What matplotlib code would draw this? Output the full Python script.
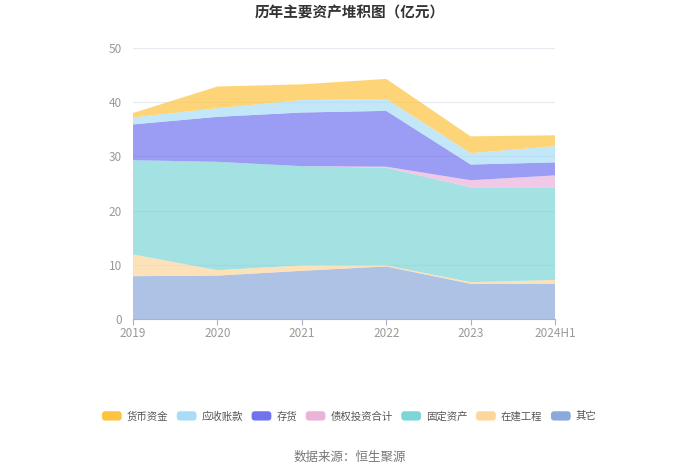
import matplotlib
matplotlib.use("Agg")
import matplotlib.pyplot as plt
from matplotlib.patches import FancyBboxPatch, Rectangle
from matplotlib.legend_handler import HandlerPatch

plt.rcParams['font.family'] = ['Noto Sans CJK SC', 'DejaVu Sans']

years = ["2019", "2020", "2021", "2022", "2023", "2024H1"]
other = [7.9, 8.0, 8.9, 9.7, 6.5, 6.5]
construction = [4.0, 1.0, 1.0, 0.2, 0.3, 0.7]
fixed_assets = [17.4, 20.0, 18.3, 18.0, 17.5, 17.1]
debt_invest = [0.0, 0.0, 0.0, 0.2, 1.3, 2.2]
inventory = [6.6, 8.3, 9.9, 10.3, 2.9, 2.4]
receivables = [1.3, 1.6, 2.3, 2.2, 2.1, 3.0]
cash = [0.8, 4.0, 2.9, 3.7, 3.1, 2.0]

series_names = ["货币资金", "应收账款", "存货", "债权投资合计", "固定资产", "在建工程", "其它"]
colors = {
    "货币资金": "#FDC43F",
    "应收账款": "#A9DDF7",
    "存货": "#7173EE",
    "债权投资合计": "#E9B3DA",
    "固定资产": "#7DD5D6",
    "在建工程": "#FDD69C",
    "其它": "#8CA9DB",
}

stack_order = ["其它", "在建工程", "固定资产", "债权投资合计", "存货", "应收账款", "货币资金"]
data = {
    "其它": other, "在建工程": construction, "固定资产": fixed_assets,
    "债权投资合计": debt_invest, "存货": inventory, "应收账款": receivables, "货币资金": cash,
}

fig = plt.figure(figsize=(7, 4.73), dpi=100)
ax = fig.add_axes([0.19, 0.3256, 0.603, 0.5729])
x = list(range(len(years)))
ax.stackplot(x, [data[k] for k in stack_order],
             colors=[colors[k] for k in stack_order], alpha=0.7, linewidth=0)

ax.set_xlim(0, len(years) - 1)
ax.set_ylim(0, 50)
ax.set_yticks([0, 10, 20, 30, 40, 50])
ax.set_xticks(x)
ax.set_xticklabels(years)
ax.grid(axis='y', color='#E6E9F0', linewidth=0.8)
ax.set_axisbelow(True)
for s in ["left", "right", "top"]:
    ax.spines[s].set_visible(False)
ax.spines["bottom"].set_color("#A9B3C6")
ax.tick_params(axis='y', length=0, labelsize=8.5, labelcolor='#999999', pad=8)
ax.tick_params(axis='x', length=4, color='#A9B3C6', labelsize=8.5, labelcolor='#999999', pad=2)

fig.text(0.5, 0.974, "历年主要资产堆积图（亿元）", ha='center', va='center',
         fontsize=10.5, fontweight='bold', color='#333333')
fig.text(0.5, 0.034, "数据来源：恒生聚源", ha='center', va='center',
         fontsize=9, color='#777777')


class RoundHandler(HandlerPatch):
    def create_artists(self, legend, orig_handle, xdescent, ydescent, width, height, fontsize, trans):
        p = FancyBboxPatch((-xdescent, -ydescent), width, height,
                           boxstyle="round,pad=0,rounding_size=2.5",
                           facecolor=orig_handle.get_facecolor(), edgecolor='none', transform=trans)
        return [p]

handles = [Rectangle((0, 0), 1, 1, facecolor=colors[n]) for n in series_names]
leg = fig.legend(handles, series_names, loc='center', bbox_to_anchor=(0.499, 0.12), ncol=7,
                 frameon=False, fontsize=7.5, handlelength=1.9, handleheight=1.0,
                 columnspacing=0.8, handletextpad=0.5,
                 handler_map={Rectangle: RoundHandler()})
for t in leg.get_texts():
    t.set_color('#555555')

fig.savefig("out.png", dpi=100)
